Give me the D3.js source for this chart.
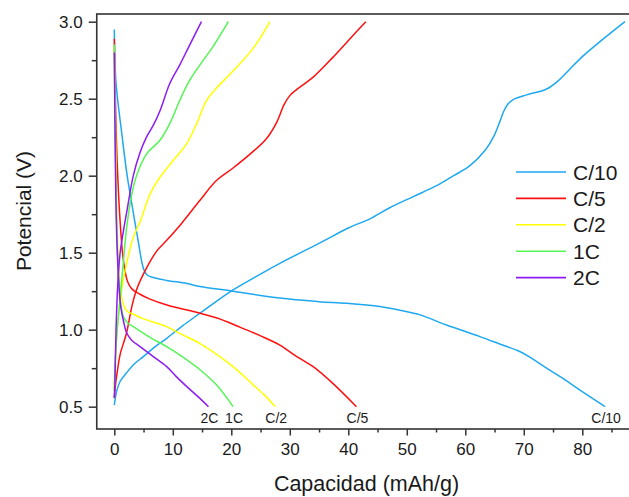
<!DOCTYPE html>
<html>
<head>
<meta charset="utf-8">
<script src="https://cdn.jsdelivr.net/npm/d3@7/dist/d3.min.js"></script>
<style>
  html, body { margin: 0; padding: 0; background: #fff; }
  svg { display: block; font-family: "Liberation Sans", Arial, sans-serif; }
</style>
</head>
<body>
<svg id="chart" width="629" height="497"></svg>
<script>
// ---- Data (capacity mAh/g, potential V) ----
const rates = ["C/10", "C/5", "C/2", "1C", "2C"];
const colors = ["#1ea8f0", "#ff1010", "#ffff00", "#55f555", "#8c1cf2"];

const dischargeC10 = [[0,2.95],[0.3,2.6],[1.26,2.28],[2.2,2.0],[3.25,1.76],[4.2,1.55],[4.7,1.44],[5.1,1.385],[5.6,1.355],[6.5,1.34],[8.96,1.32],[12.4,1.3],[14.65,1.28],[20.3,1.25],[28.3,1.205],[35,1.182],[39.7,1.171],[45.4,1.15],[49,1.125],[52.3,1.096],[56.8,1.03],[62.5,0.955],[66,0.905],[69.4,0.857],[71.5,0.81],[73.9,0.75],[77,0.675],[79.6,0.608],[83.9,0.5]];
const chargeC10 = [[0,0.51],[0.4,0.6],[1.0,0.665],[2.1,0.72],[3.5,0.78],[4.96,0.825],[7,0.89],[8.96,0.944],[11.5,1.02],[14.65,1.107],[17.5,1.185],[20.3,1.258],[24,1.34],[28.3,1.431],[35,1.56],[40,1.66],[43.7,1.72],[47,1.79],[51.1,1.864],[55.1,1.935],[58,2.0],[60.8,2.065],[63.5,2.17],[64.8,2.25],[65.8,2.34],[66.6,2.42],[67.4,2.47],[68.5,2.5],[70.5,2.525],[73.9,2.563],[76,2.62],[77.9,2.693],[80.2,2.78],[83.6,2.888],[87.3,3.0]];

const dischargeC5 = [[0,2.89],[0.3,2.3],[0.7,1.9],[1.0,1.7],[1.4,1.5],[1.8,1.39],[2.3,1.31],[3.0,1.265],[4.4,1.23],[6,1.2],[9,1.16],[14.65,1.107],[18,1.07],[20,1.04],[22.5,1.0],[25,0.96],[28.3,0.9],[31,0.83],[34,0.76],[37.4,0.65],[41.4,0.5]];
const chargeC5 = [[0,0.555],[0.2,0.64],[0.6,0.75],[1.0,0.84],[2.1,0.98],[3.0,1.15],[3.8,1.26],[5.5,1.4],[7.25,1.51],[8.96,1.58],[11.5,1.69],[14.65,1.84],[17.5,1.97],[20.3,2.05],[23.2,2.14],[26,2.24],[27.8,2.35],[29,2.46],[30,2.52],[31.2,2.56],[34,2.64],[37.4,2.77],[40.3,2.89],[43,3.0]];

const dischargeC2 = [[0,2.85],[0.2,2.3],[0.4,1.8],[0.7,1.45],[1.0,1.28],[1.5,1.17],[2.2,1.12],[3.25,1.1],[5,1.07],[8.96,1.02],[11.5,0.97],[14.65,0.91],[17.5,0.84],[20.3,0.76],[23.8,0.64],[25.8,0.57],[27.5,0.5]];
const chargeC2 = [[0,0.62],[0.2,0.8],[0.5,1.0],[1.0,1.2],[2.1,1.43],[3.25,1.6],[4.4,1.7],[6.1,1.88],[7.8,1.99],[10.1,2.1],[12.4,2.21],[14.1,2.34],[15.8,2.49],[17.5,2.57],[20.3,2.68],[23.8,2.83],[26.6,3.0]];

const discharge1C = [[0,2.85],[0.15,2.3],[0.35,1.8],[0.6,1.45],[1.0,1.2],[1.6,1.08],[2.4,1.04],[3.25,1.02],[6.1,0.95],[8.96,0.89],[11.8,0.82],[14.65,0.74],[17.5,0.64],[20.3,0.5]];
const charge1C = [[0,0.6],[0.15,0.8],[0.5,1.0],[1.0,1.2],[1.5,1.42],[2.1,1.66],[3.0,1.88],[3.8,2.0],[5.5,2.14],[7.8,2.23],[9.5,2.34],[11.2,2.49],[12.9,2.62],[14.65,2.72],[16.9,2.84],[19.5,3.0]];

const discharge2C = [[0,2.8],[0.15,2.2],[0.35,1.7],[0.7,1.35],[1.1,1.15],[1.6,1.05],[2.1,0.98],[3,0.93],[4.4,0.89],[6.5,0.83],[8.96,0.76],[10.6,0.695],[12.4,0.63],[14.3,0.565],[16.1,0.5]];
const charge2C = [[0,0.56],[0.1,0.65],[0.3,1.0],[0.6,1.3],[1.0,1.5],[1.6,1.65],[2.2,1.78],[3.25,2.0],[4.4,2.15],[5.5,2.25],[6.7,2.33],[7.8,2.42],[9.5,2.6],[11.2,2.72],[12.9,2.85],[14.9,3.0]];

const dischargeSeries = [dischargeC10, dischargeC5, dischargeC2, discharge1C, discharge2C];
const chargeSeries = [chargeC10, chargeC5, chargeC2, charge1C, charge2C];

const xMajorTicks = [0,10,20,30,40,50,60,70,80];
const xMinorTicks = [5,15,25,35,45,55,65,75,85];
const yMajorTicks = [0.5,1.0,1.5,2.0,2.5,3.0];
const yMinorTicks = [0.75,1.25,1.75,2.25,2.75];

// ---- Layout ----
const svg = d3.select("#chart");
const mLeft = 96.75, mRight = 632, mTop = 14, mBottom = 429;
const x = d3.scaleLinear().domain([-3, 88.5]).range([mLeft, mRight]);
const y = d3.scaleLinear().domain([0.355, 3.05]).range([mBottom, mTop]);
const axisColor = "#333";
const textColor = "#1a1a1a";

const line = d3.line().x(d => x(d[0])).y(d => y(d[1])).curve(d3.curveCatmullRom.alpha(0.5));

const plot = svg.append("g");
rates.forEach((r, i) => {
  plot.append("path").datum(dischargeSeries[i])
    .attr("d", line).attr("fill", "none")
    .attr("stroke", colors[i]).attr("stroke-width", 1.5);
  plot.append("path").datum(chargeSeries[i])
    .attr("d", line).attr("fill", "none")
    .attr("stroke", colors[i]).attr("stroke-width", 1.5);
});

// Frame
svg.append("rect").attr("x", mLeft).attr("y", mTop)
  .attr("width", mRight - mLeft).attr("height", mBottom - mTop)
  .attr("fill", "none").attr("stroke", axisColor).attr("stroke-width", 1.6);

// X axis
const xAxis = d3.axisBottom(x).tickValues(xMajorTicks).tickSize(6.5).tickPadding(7).tickFormat(d3.format("d"));
const gx = svg.append("g").attr("transform", `translate(0,${mBottom})`).call(xAxis);
gx.select(".domain").remove();
gx.selectAll(".tick line").attr("stroke", axisColor).attr("stroke-width", 1.5);
gx.selectAll(".tick text").attr("fill", textColor).style("font-size", "17px");
const xAxisMinor = d3.axisBottom(x).tickValues(xMinorTicks).tickSize(3.5).tickFormat("");
const gxm = svg.append("g").attr("transform", `translate(0,${mBottom})`).call(xAxisMinor);
gxm.select(".domain").remove();
gxm.selectAll(".tick line").attr("stroke", axisColor).attr("stroke-width", 1.5);

// Y axis
const yAxis = d3.axisLeft(y).tickValues(yMajorTicks).tickSize(8).tickPadding(6).tickFormat(d3.format(".1f"));
const gy = svg.append("g").attr("transform", `translate(${mLeft},0)`).call(yAxis);
gy.select(".domain").remove();
gy.selectAll(".tick line").attr("stroke", axisColor).attr("stroke-width", 1.5);
gy.selectAll(".tick text").attr("fill", textColor).style("font-size", "17px");
const yAxisMinor = d3.axisLeft(y).tickValues(yMinorTicks).tickSize(5).tickFormat("");
const gym = svg.append("g").attr("transform", `translate(${mLeft},0)`).call(yAxisMinor);
gym.select(".domain").remove();
gym.selectAll(".tick line").attr("stroke", axisColor).attr("stroke-width", 1.5);

// Axis titles
svg.append("text").attr("x", 366.5).attr("y", 491)
  .attr("text-anchor", "middle").attr("fill", textColor)
  .style("font-size", "21.5px").text("Capacidad (mAh/g)");
svg.append("text").attr("transform", "translate(31,211) rotate(-90)")
  .attr("text-anchor", "middle").attr("fill", textColor)
  .style("font-size", "21px").text("Potencial (V)");

// End labels for discharge curves
rates.forEach((r, i) => {
  const last = dischargeSeries[i][dischargeSeries[i].length - 1];
  svg.append("text").attr("x", x(last[0]) + 1).attr("y", 423)
    .attr("text-anchor", "middle").attr("fill", textColor)
    .style("font-size", "14px").text(r);
});

// Legend
const legend = svg.append("g");
rates.forEach((r, i) => {
  const ly = 172 + i * 26.4;
  legend.append("line").attr("x1", 516).attr("x2", 566).attr("y1", ly).attr("y2", ly)
    .attr("stroke", colors[i]).attr("stroke-width", 1.6);
  legend.append("text").attr("x", 573).attr("y", ly + 7.5)
    .attr("fill", textColor).style("font-size", "21px").text(r);
});
</script>
</body>
</html>
